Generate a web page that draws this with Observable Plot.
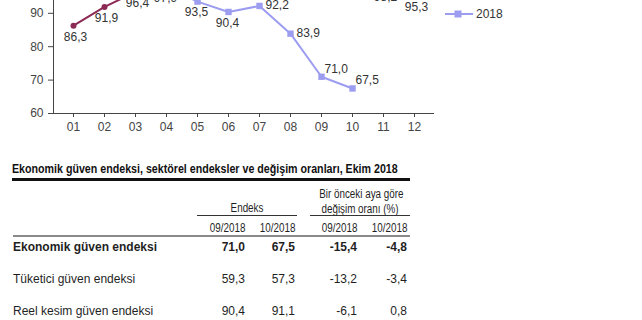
<!DOCTYPE html>
<html>
<head>
<meta charset="utf-8">
<script src="https://cdn.jsdelivr.net/npm/d3@7"></script>
<script src="https://cdn.jsdelivr.net/npm/@observablehq/plot@0.6"></script>
<style>
  html, body { margin: 0; padding: 0; background: #fff; }
  body { width: 642px; height: 320px; position: relative; overflow: hidden; font-family: "Liberation Sans", Arial, sans-serif; color: #1a1a1a; }
  #chart { position: absolute; left: 0; top: -73.7px; }
  #legend { position: absolute; left: 445px; top: -16px; font-size: 12px; color: #333; }
  .lg { height: 20px; display: flex; align-items: center; }
  .lg svg { margin-right: 1px; }
  .abs { position: absolute; white-space: nowrap; line-height: 14px; font-size: 12px; color: #1f1f1f; }
  .narrow { display: inline-block; transform: scaleX(0.82); }
  .r .narrow { transform-origin: right center; }
  .c .narrow { transform-origin: center center; }
  .l .narrow { transform-origin: left center; }
  .rule { position: absolute; }
</style>
</head>
<body>
<div id="chart"></div>
<div id="legend"></div>
<div id="table"></div>
<script>
// ---- chart data ----
const months = ["01","02","03","04","05","06","07","08","09","10","11","12"];
const seriesNames = ["2017", "2018"];
const values2017 = [86.3, 91.9, 96.4, 99.9, 100.5, 99.4, 101.0, 100.3, 99.5, 99.7, 98.2, 95.3];
const values2018 = [104.5, 102.4, 99.6, 97.9, 93.5, 90.4, 92.2, 83.9, 71.0, 67.5];
const yTicks = [60, 70, 80, 90, 100, 110];

// ---- table data ----
const tableTitle = "Ekonomik güven endeksi, sektörel endeksler ve değişim oranları, Ekim 2018";
const groupHeaders = ["Endeks", "Bir önceki aya göre", "değişim oranı (%)"];
const colHeaders = ["09/2018", "10/2018", "09/2018", "10/2018"];
const rowLabels = ["Ekonomik güven endeksi", "Tüketici güven endeksi", "Reel kesim güven endeksi"];
const endeksSep = [71.0, 59.3, 90.4];
const endeksOct = [67.5, 57.3, 91.1];
const changeSep = [-15.4, -13.2, -6.1];
const changeOct = [-4.8, -3.4, 0.8];

const colors = {"2017": "#8c2a55", "2018": "#9c9cf0"};
const fmt = v => v.toFixed(1).replace(".", ",");

const d2017 = values2017.map((v, i) => ({month: months[i], value: v}));
const d2018 = values2018.map((v, i) => ({month: months[i], value: v}));

const chart = Plot.plot({
  width: 642,
  height: 217,
  marginLeft: 53,
  marginRight: 209,
  marginTop: 20,
  marginBottom: 30,
  style: {fontFamily: "'Liberation Sans', Arial, sans-serif", fontSize: "12px", color: "#444", background: "transparent"},
  x: {type: "point", domain: months, padding: 0.5, label: null, tickSize: 4, tickPadding: 5, line: true},
  y: {domain: [60, 110], ticks: yTicks, label: null, tickSize: 5, tickPadding: 5, line: true},
  marks: [
    Plot.line(d2017, {x: "month", y: "value", stroke: colors["2017"], strokeWidth: 2}),
    Plot.dot(d2017, {x: "month", y: "value", r: 3, fill: colors["2017"], stroke: "none"}),
    Plot.line(d2018, {x: "month", y: "value", stroke: colors["2018"], strokeWidth: 2}),
    Plot.dot(d2018, {x: "month", y: "value", symbol: "square", r: 3.6, fill: colors["2018"], stroke: "none"}),
    Plot.text(d2017, {x: "month", y: "value", text: d => fmt(d.value), dy: 11.5, dx: 2, fill: "#333", fontSize: 12}),
    Plot.text(d2018, {filter: (d, i) => i <= 5, x: "month", y: "value", text: d => fmt(d.value), dy: 11, dx: -1, fill: "#333", fontSize: 12}),
    Plot.text(d2018, {filter: (d, i) => i === 6 || i === 7, x: "month", y: "value", text: d => fmt(d.value), dx: 6, dy: -1, textAnchor: "start", fill: "#333", fontSize: 12}),
    Plot.text(d2018, {filter: (d, i) => i >= 8, x: "month", y: "value", text: d => fmt(d.value), dx: 3, dy: -8, textAnchor: "start", fill: "#333", fontSize: 12})
  ]
});
document.getElementById("chart").appendChild(chart);

// legend
const legend = document.getElementById("legend");
seriesNames.forEach(name => {
  const row = document.createElement("div");
  row.className = "lg";
  const sym = name === "2017"
    ? `<circle cx="13" cy="5" r="3" fill="${colors[name]}"/>`
    : `<rect x="9.5" y="1.5" width="7" height="7" fill="${colors[name]}"/>`;
  row.innerHTML = `<svg width="30" height="10"><line x1="0" x2="28" y1="5" y2="5" stroke="${colors[name]}" stroke-width="2"/>${sym}</svg><span>${name}</span>`;
  legend.appendChild(row);
});

// table
const T = document.getElementById("table");
function addText(txt, cls, style, narrow) {
  const el = document.createElement("div");
  el.className = "abs " + cls;
  el.setAttribute("style", style);
  el.innerHTML = narrow ? `<span class="narrow">${txt}</span>` : txt;
  T.appendChild(el);
  return el;
}
function addRule(style) {
  const el = document.createElement("div");
  el.className = "rule";
  el.setAttribute("style", style);
  T.appendChild(el);
}
addText(tableTitle, "l", "left:12px; top:161px; font-size:13px; line-height:16px; font-weight:bold; color:#111;", true);
addRule("left:12px; top:178.3px; width:398px; height:2.4px; background:#111;");
// group headers
addText(groupHeaders[0], "c", "left:197px; width:100px; text-align:center; top:201px;", true);
addText(groupHeaders[1], "c", "left:310px; width:100px; text-align:center; top:186.5px;", true);
addText(groupHeaders[2], "c", "left:310px; width:100px; text-align:center; top:202px;", true);
addRule("left:197px; top:214.5px; width:100px; height:1.2px; background:#333;");
addRule("left:310px; top:214.5px; width:100px; height:1.2px; background:#333;");
const rightEdges = [245, 295, 357, 407];
colHeaders.forEach((h, j) => addText(h, "r", `right:${642 - rightEdges[j]}px; top:221px;`, true));
addRule("left:13px; top:234.5px; width:397px; height:2px; background:#8a8a8a;");
const rowCenters = [247, 279, 311];
rowLabels.forEach((lab, i) => {
  const bold = i === 0 ? "font-weight:bold;" : "";
  addText(lab, "l", `left:13px; top:${rowCenters[i] - 7}px; ${bold}`, false);
  [endeksSep[i], endeksOct[i], changeSep[i], changeOct[i]].forEach((v, j) => {
    addText(fmt(v), "r", `right:${642 - rightEdges[j]}px; top:${rowCenters[i] - 7}px; ${bold}`, false);
  });
});
</script>
</body>
</html>
